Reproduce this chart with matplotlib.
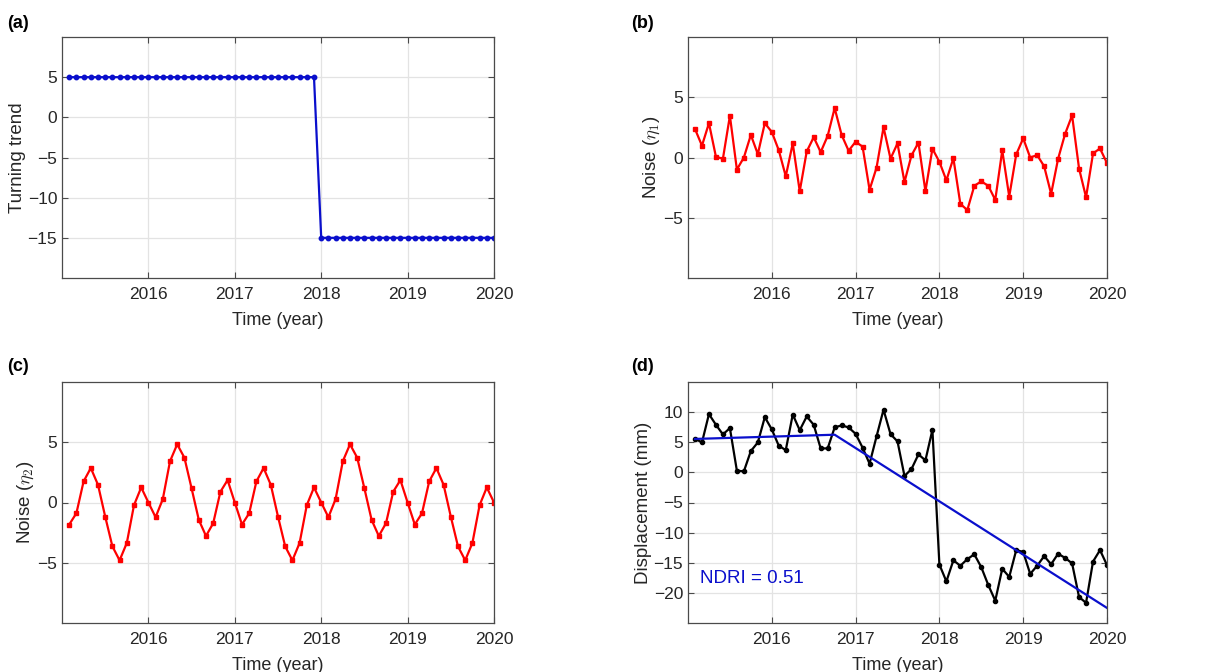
import numpy as np
import matplotlib
matplotlib.use("Agg")
import matplotlib.pyplot as plt

plt.rcParams['font.family'] = ['Liberation Sans', 'DejaVu Sans']
plt.rcParams['mathtext.fontset'] = 'cm'

# ---- data ----
months = list(range(1, 61))  # months after Jan 2015
time = [2015 + m / 12 for m in months]

trend = [5.0] * 35 + [-15.0] * 25

noise1 = [2.37, 0.98, 2.85, 0.06, -0.10, 3.46, -1.00, 0.00, 1.87, 0.28,
          2.85, 2.12, 0.60, -1.56, 1.17, -2.80, 0.50, 1.68, 0.45, 1.79,
          4.10, 1.87, 0.56, 1.31, 0.90, -2.68, -0.84, 2.51, -0.10, 1.17,
          -2.04, 0.17, 1.23, -2.80, 0.73, -0.36, -1.90, -0.06, -3.85, -4.36,
          -2.35, -1.98, -2.35, -3.52, 0.59, -3.24, 0.25, 1.59, 0.00, 0.20,
          -0.73, -3.02, -0.10, 1.96, 3.49, -0.92, -3.30, 0.34, 0.75, -0.47]

noise2 = [-1.83, -0.89, 1.75, 2.86, 1.47, -1.17, -3.64, -4.80, -3.36, -0.22,
          1.25, 0.00, -1.22, 0.28, 3.42, 4.83, 3.72, 1.17, -1.44, -2.78,
          -1.72, 0.89, 1.86, 0.00, -1.83, -0.89, 1.75, 2.86, 1.47, -1.17,
          -3.64, -4.80, -3.36, -0.22, 1.25, 0.00, -1.22, 0.28, 3.42, 4.83,
          3.72, 1.17, -1.44, -2.78, -1.72, 0.89, 1.86, 0.00, -1.83, -0.89,
          1.75, 2.86, 1.47, -1.17, -3.64, -4.80, -3.36, -0.22, 1.25, 0.00]

displacement = [5.58, 4.97, 9.67, 7.90, 6.30, 7.35, 0.28, 0.17, 3.54, 4.97,
                9.17, 7.13, 4.42, 3.70, 9.60, 7.00, 9.28, 7.90, 3.98, 3.98,
                7.46, 7.80, 7.46, 6.40, 4.10, 1.44, 5.97, 10.40, 6.35, 5.14,
                -0.60, 0.55, 2.98, 2.00, 7.07, -15.30, -18.10, -14.60, -15.50, -14.40,
                -13.60, -15.75, -18.70, -21.30, -16.00, -17.35, -12.90, -13.20, -16.85, -15.50,
                -13.90, -15.25, -13.50, -14.20, -15.10, -20.70, -21.65, -14.80, -12.90, -15.40]

fit_time = [2015 + 1 / 12, 2016.75, 2020.0]
fit_value = [5.55, 6.25, -22.5]

ndri_text = "NDRI = 0.51"
year_ticks = [2016, 2017, 2018, 2019, 2020]

# ---- styling ----
BLUE = '#0a0fcc'
RED = '#ff0000'
SPINE = '#4a4a4a'
TXT = '#262626'
W, H = 1217, 672

fig = plt.figure(figsize=(W / 100, H / 100), dpi=100)


def make_ax(l, t, r, b):
    return fig.add_axes([l / W, 1 - b / H, (r - l) / W, (b - t) / H])


def style(ax, ylim, yticks, ylabel):
    ax.set_xlim(2015.0, 2020.0)
    ax.set_ylim(*ylim)
    ax.set_xticks(year_ticks)
    ax.set_xticklabels([str(y) for y in year_ticks])
    ax.set_yticks(yticks)
    ax.set_yticklabels([('\u2212' + str(abs(v))) if v < 0 else str(v) for v in yticks])
    ax.grid(True, color='#e3e3e3', linewidth=0.9)
    ax.set_axisbelow(True)
    for s in ax.spines.values():
        s.set_color(SPINE)
        s.set_linewidth(0.9)
    ax.tick_params(direction='in', length=4, width=0.8, color=SPINE,
                   top=True, right=True, labelsize=12.5, labelcolor=TXT)
    ax.tick_params(axis='x', pad=6.5)
    ax.tick_params(axis='y', pad=3.5)
    ax.set_xlabel('Time (year)', fontsize=13, color=TXT, labelpad=7)
    ax.set_ylabel(ylabel, fontsize=13.5, color=TXT, labelpad=1)


ax_a = make_ax(62, 37, 494, 278)
ax_b = make_ax(688, 37, 1107, 278)
ax_c = make_ax(62, 382, 494, 623)
ax_d = make_ax(688, 382, 1107, 623)

ax_a.plot(time, trend, '-o', color=BLUE, lw=1.6, ms=3.2)
style(ax_a, (-20, 10), [-15, -10, -5, 0, 5], 'Turning trend')

ax_b.plot(time, noise1, '-s', color=RED, lw=1.6, ms=2.8)
style(ax_b, (-10, 10), [-5, 0, 5], r'Noise ($\eta_1$)')

ax_c.plot(time, noise2, '-s', color=RED, lw=1.6, ms=2.8)
style(ax_c, (-10, 10), [-5, 0, 5], r'Noise ($\eta_2$)')

ax_d.plot(time, displacement, '-o', color='black', lw=1.6, ms=3.0)
ax_d.plot(fit_time, fit_value, '-', color=BLUE, lw=1.6)
ax_d.text(2015.14, -17.6, ndri_text, color=BLUE, fontsize=13.5, va='center', ha='left')
style(ax_d, (-25, 15), [-20, -15, -10, -5, 0, 5, 10], 'Displacement (mm)')

for lab, x, y in [('(a)', 7, 24), ('(b)', 631, 24), ('(c)', 7, 367), ('(d)', 631, 367)]:
    fig.text(x / W, 1 - y / H, lab, fontsize=13, fontweight='bold', va='center', ha='left')

fig.savefig('out.png', dpi=100, facecolor='white')
